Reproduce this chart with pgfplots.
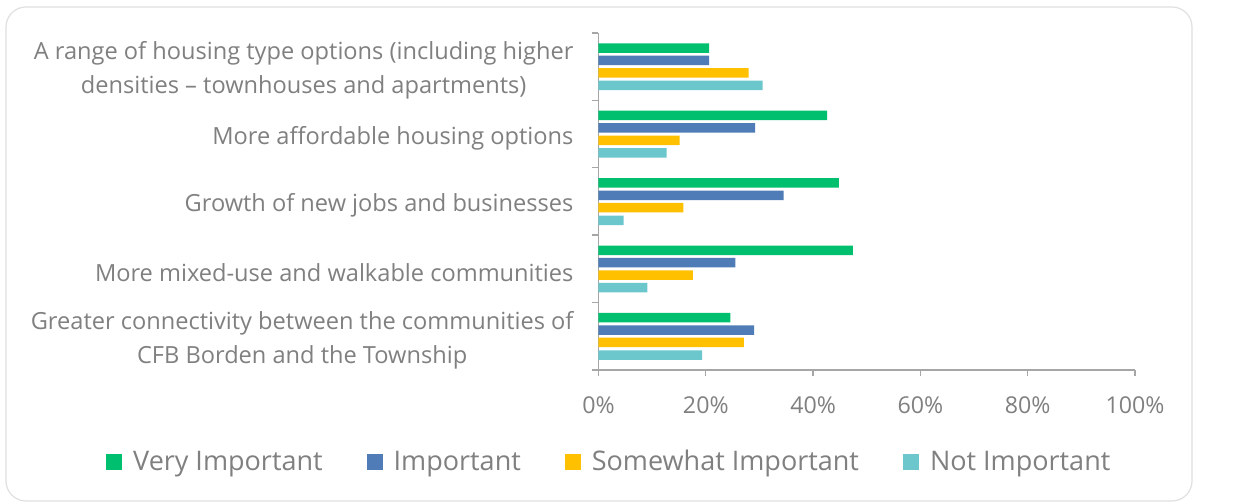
\documentclass[border=0pt]{standalone}
\usepackage{pgfplots}
\pgfplotsset{compat=1.18}
\usepackage{fontspec}
\setmainfont{Open Sans}
\definecolor{cgreen}{RGB}{0,191,111}
\definecolor{cblue}{RGB}{79,124,182}
\definecolor{cyellow}{RGB}{255,192,0}
\definecolor{ccyan}{RGB}{108,199,205}
\definecolor{txt}{RGB}{128,128,128}
\definecolor{axc}{RGB}{166,166,166}
\begin{document}
\begin{tikzpicture}
\fill[white] (0,0) rectangle (627pt,251pt);
\draw[black!12, line width=0.6pt, rounded corners=10pt] (3pt,0.5pt) rectangle (596pt,247.5pt);
\begin{axis}[
 at={(299.25pt,66pt)}, anchor=south west,
 scale only axis, width=268.25pt, height=168.5pt,
 xbar, bar width=4.75pt,
 xmin=0, xmax=100, ymin=-0.5, ymax=4.5,
 axis x line*=bottom, axis y line*=left,
 axis line style={axc, line width=0.7pt},
 xtick={0,20,...,100},
 xticklabel={\pgfmathprintnumber{\tick}\%},
 /pgf/number format/assume math mode=true,
 ytick={0,...,4},
 yticklabels={{Greater connectivity between the communities of\\CFB Borden and the Township},
   {More mixed-use and walkable communities},
   {Growth of new jobs and businesses},
   {More affordable housing options},
   {A range of housing type options (including higher\\densities -- townhouses and apartments)}},
 minor ytick={-0.5,0.5,...,4.5},
 tick align=outside, major tick length=3pt, minor tick length=3pt,
 tick style={axc, line width=0.7pt},
 major y tick style={draw=none},
 ticklabel style={text=txt},
 yticklabel style={font=\fontsize{11.8pt}{17pt}\selectfont, align=center, xshift=-6pt, yshift=-2pt},
 xticklabel style={font=\fontsize{11.6pt}{14pt}\selectfont, yshift=-7pt},
 legend columns=4,
 legend style={at={(0.022,-0.273)}, anchor=center, draw=none, fill=none,
   font=\fontsize{13.5pt}{15pt}\selectfont, text=txt,
   /tikz/every even column/.append style={column sep=20pt}},
 legend image code/.code={\fill[#1] (0pt,-4pt) rectangle (8pt,4pt); \path (11.5pt,0pt);},
]
\addplot[fill=cgreen, draw=none, bar shift=9.3pt] coordinates {(24.6,0) (47.4,1) (44.8,2) (42.6,3) (20.6,4)};
\addplot[fill=cblue, draw=none, bar shift=3.1pt] coordinates {(29.0,0) (25.5,1) (34.5,2) (29.2,3) (20.6,4)};
\addplot[fill=cyellow, draw=none, bar shift=-3.1pt] coordinates {(27.1,0) (17.6,1) (15.8,2) (15.1,3) (28.0,4)};
\addplot[fill=ccyan, draw=none, bar shift=-9.4pt] coordinates {(19.3,0) (9.1,1) (4.7,2) (12.7,3) (30.6,4)};
\legend{Very Important, Important, Somewhat Important, Not Important}
\end{axis}
\end{tikzpicture}
\end{document}
